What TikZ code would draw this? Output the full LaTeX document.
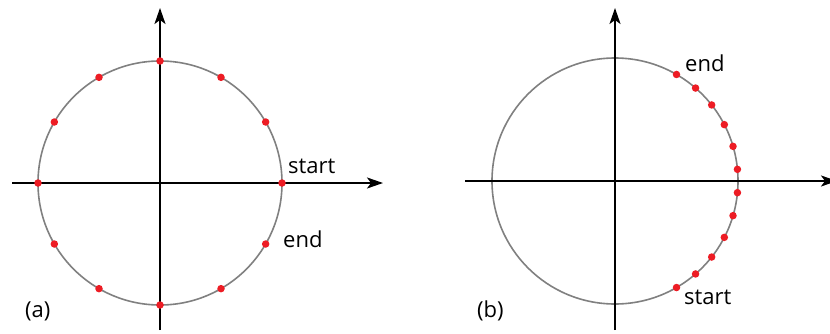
\documentclass[tikz,border=0pt]{standalone}
\usepackage{fontspec}
\setmainfont{Open Sans}
\usepackage{tikz}
\usetikzlibrary{arrows.meta, positioning}
\definecolor{dotred}{RGB}{237, 28, 36}
\definecolor{ringgray}{RGB}{128, 128, 128}

\begin{document}
\begin{tikzpicture}[x=1pt, y=1pt,
    axis/.style={draw=black, line width=2pt, -{Stealth[length=16pt, width=11pt, inset=4pt]}},
    ring/.style={draw=ringgray, line width=1.6pt},
    sample/.style={circle, fill=dotred, inner sep=0pt, minimum size=7.5pt},
    tag/.style={font=\fontsize{22}{26}\selectfont, inner sep=0pt, anchor=west}
]
    \useasboundingbox (0,0) rectangle (830,333);

    % (a) evenly spread round the whole circle
    \coordinate (oa) at (160,150);
    \coordinate (xa0) at (12,150);   \coordinate (xa1) at (383,150);
    \coordinate (ya0) at (160,3);    \coordinate (ya1) at (160,325);
    \draw[ring] (oa) circle[radius=122];
    \draw[axis] (xa0) -- (xa1);
    \draw[axis] (ya0) -- (ya1);
    \foreach \k in {0,...,11}
        \node[sample] (pa\k) at ([shift={(\k*30:122)}]oa) {};
    \node[tag] (starta) at (288,167) {start};
    \node[tag] (enda) at (283,94) {end};
    \node[tag] (laba) at (25,22) {(a)};

    % (b) crowded on the right arc
    \coordinate (ob) at (615,152);
    \coordinate (xb0) at (465,152);  \coordinate (xb1) at (837,152);
    \coordinate (yb0) at (615,3);    \coordinate (yb1) at (615,325);
    \draw[ring] (ob) circle[radius=123];
    \draw[axis] (xb0) -- (xb1);
    \draw[axis] (yb0) -- (yb1);
    \foreach \k in {0,...,11}
        \node[sample] (pb\k) at ([shift={({-60+\k*120/11}:123)}]ob) {};
    \node[tag] (endb) at (685,270) {end};
    \node[tag] (startb) at (684,35.5) {start};
    \node[tag] (labb) at (477,22) {(b)};
\end{tikzpicture}
\end{document}
